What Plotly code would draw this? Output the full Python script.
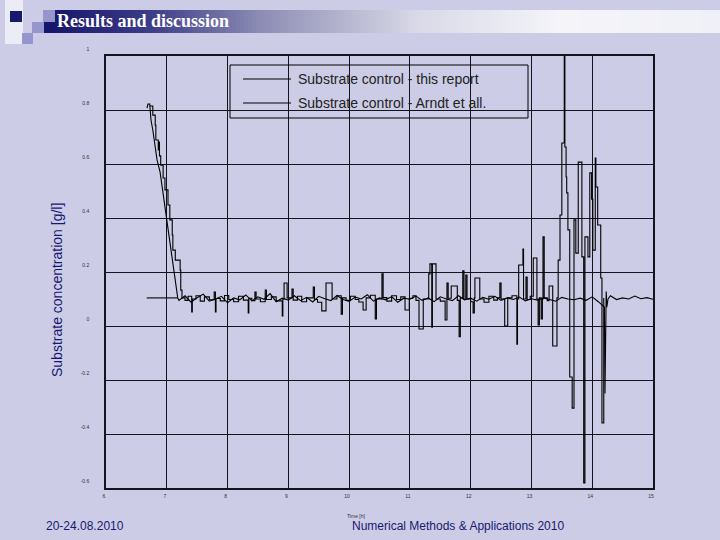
import plotly.graph_objects as go

# ---------------- data ----------------
# Series "this report": smooth descent then small noise around ~0.1 g/l
report_t = [6.675, 6.69, 6.72, 6.74, 6.77, 6.81, 6.84, 6.89, 6.92, 6.95, 6.99, 7.02, 7.05, 7.09, 7.12, 7.15, 7.18,
            7.2, 7.3, 7.4, 7.5, 7.6, 7.7, 7.8, 7.9, 8.0, 8.1, 8.2, 8.3, 8.4, 8.5, 8.6, 8.7, 8.8, 8.9,
            9.0, 9.1, 9.2, 9.3, 9.4, 9.5, 9.6, 9.7, 9.8, 9.9, 10.0, 10.1, 10.2, 10.3, 10.4, 10.5, 10.6,
            10.7, 10.8, 10.9, 11.0, 11.1, 11.2, 11.3, 11.4, 11.5, 11.6, 11.7, 11.8, 11.9, 12.0, 12.1,
            12.2, 12.3, 12.4, 12.5, 12.6, 12.7, 12.8, 12.9, 13.0, 13.1, 13.2, 13.3, 13.4, 13.5, 13.6,
            13.7, 13.8, 13.9, 14.0, 14.1, 14.2, 14.21, 14.23, 14.24, 14.26, 14.3, 14.4, 14.5, 14.6,
            14.7, 14.8, 14.9, 15.0]
report_v = [0.807, 0.822, 0.822, 0.763, 0.726, 0.670, 0.615, 0.570, 0.522, 0.467, 0.422, 0.363, 0.319, 0.252, 0.200, 0.152, 0.104,
            0.095, 0.112, 0.088, 0.105, 0.118, 0.092, 0.100, 0.110, 0.086, 0.104, 0.097, 0.115, 0.093, 0.108, 0.099, 0.120, 0.090, 0.103,
            0.096, 0.112, 0.094, 0.106, 0.089, 0.110, 0.101, 0.094, 0.113, 0.098, 0.091, 0.107, 0.100, 0.116, 0.092, 0.104, 0.097,
            0.109, 0.088, 0.103, 0.099, 0.111, 0.095, 0.104, 0.090, 0.108, 0.100, 0.094, 0.112, 0.097, 0.103, 0.092,
            0.106, 0.099, 0.110, 0.095, 0.104, 0.098, 0.107, 0.093, 0.101, 0.096, 0.104, 0.099, 0.092, 0.106, 0.100,
            0.097, 0.103, 0.095, 0.108, 0.090, 0.070, -0.250, 0.128, 0.070, 0.100, 0.112, 0.098, 0.104, 0.100,
            0.111, 0.101, 0.105, 0.099]

# Series "Arndt et all.": step-like descent then spiky oscillations
arndt_t = [6.72, 6.76, 6.77, 6.81, 6.82, 6.86, 6.87, 6.88, 6.90, 6.94, 6.97, 7.02, 7.05, 7.09, 7.10, 7.14, 7.20, 7.22, 7.23,
           7.25, 7.30, 7.35, 7.41, 7.42, 7.48, 7.55, 7.62, 7.70, 7.78, 7.80, 7.81, 7.88, 7.95, 8.02, 8.10, 8.18, 8.26,
           8.34, 8.35, 8.40, 8.45, 8.47, 8.54, 8.62, 8.64, 8.72, 8.80, 8.90, 8.91, 8.93, 8.98, 9.06, 9.08, 9.15, 9.22,
           9.30, 9.41, 9.43, 9.48, 9.55, 9.62, 9.72, 9.80, 9.87, 9.89, 9.95, 10.02, 10.10, 10.16, 10.23, 10.28, 10.35,
           10.43, 10.45, 10.54, 10.56, 10.62, 10.70, 10.78, 10.85, 10.92, 10.99, 11.05, 11.10, 11.15, 11.22, 11.31,
           11.33, 11.36, 11.37, 11.43, 11.50, 11.58, 11.61, 11.63, 11.68, 11.78, 11.81, 11.83, 11.87, 11.89, 11.92,
           11.94, 12.00, 12.04, 12.06, 12.07, 12.15, 12.22, 12.30, 12.38, 12.44, 12.48, 12.50, 12.56, 12.61, 12.68,
           12.76, 12.77, 12.79, 12.86, 12.87, 12.91, 12.93, 12.98, 13.03, 13.09, 13.11, 13.13, 13.16, 13.18, 13.19,
           13.21, 13.26, 13.29, 13.35, 13.42, 13.44, 13.47, 13.50, 13.54, 13.55, 13.57, 13.58, 13.60, 13.63, 13.67,
           13.70, 13.73, 13.77, 13.83, 13.86, 13.88, 13.93, 13.96, 13.99, 14.01, 14.05, 14.06, 14.09, 14.14, 14.16,
           14.19]
arndt_v = [0.815, 0.815, 0.781, 0.744, 0.689, 0.652, 0.681, 0.630, 0.596, 0.548, 0.504, 0.448, 0.393, 0.337, 0.281, 0.244, 0.244, 0.207, 0.133,
           0.104, 0.095, 0.110, 0.052, 0.100, 0.112, 0.092, 0.108, 0.097, 0.126, 0.052, 0.102, 0.093, 0.113, 0.098, 0.090, 0.110, 0.096,
           0.048, 0.103, 0.094, 0.126, 0.100, 0.090, 0.133, 0.098, 0.108, 0.093, 0.037, 0.100, 0.159, 0.104, 0.137, 0.096, 0.110, 0.090,
           0.104, 0.144, 0.098, 0.088, 0.056, 0.159, 0.100, 0.112, 0.044, 0.104, 0.095, 0.110, 0.098, 0.089, 0.059, 0.104, 0.114,
           0.026, 0.100, 0.193, 0.105, 0.092, 0.112, 0.098, 0.108, 0.059, 0.103, 0.112, 0.095, -0.011, 0.100, 0.193,
           0.230, -0.004, 0.230, 0.100, 0.092, 0.022, 0.159, 0.103, 0.148, 0.095, -0.040, 0.104, 0.204, 0.098, 0.189,
           0.100, 0.090, 0.048, 0.104, 0.178, 0.100, 0.088, 0.110, 0.096, 0.104, 0.159, 0.100, 0.000, 0.104, 0.112,
           -0.067, 0.100, 0.226, 0.285, 0.100, 0.181, 0.098, 0.110, 0.252, 0.100, 0.004, 0.104, 0.026, 0.100, 0.330,
           0.104, 0.094, 0.148, -0.074, 0.104, 0.244, 0.411, 0.678, 1.050, 0.663, 0.552, 0.493, 0.356, -0.189, -0.304,
           0.393, 0.270, 0.607, 0.256, -0.581, 0.330, 0.256, 0.567, 0.470, 0.281, 0.622, 0.515, 0.374, 0.178, -0.359,
           0.104]

# short flat level drawn before the descent
level_t = [6.67, 7.18]
level_v = [0.104, 0.104]

series_names = ["Substrate control - this report", "Substrate control - Arndt et all."]
x_ticks = [6, 7, 8, 9, 10, 11, 12, 13, 14, 15]
y_ticks = [-0.6, -0.4, -0.2, 0, 0.2, 0.4, 0.6, 0.8, 1]
y_tick_text = ["-0.6", "-0.4", "-0.2", "0", "0.2", "0.4", "0.6", "0.8", "1"]

# ---------------- figure ----------------
BG = "rgb(204,204,230)"
NAVY = "rgb(24,24,110)"
W, H = 720, 540
L, R, T, B = 106, 653, 56, 488


def px(x):
    return (x - L) / (R - L)


def py(y):
    return (B - y) / (B - T)


fig = go.Figure()
fig.add_trace(go.Scatter(x=report_t, y=report_v, mode="lines", name=series_names[0], showlegend=False,
                         line=dict(color="black", width=1.1)))
fig.add_trace(go.Scatter(x=arndt_t, y=arndt_v, mode="lines", name=series_names[1], showlegend=False,
                         line=dict(color="black", width=1.1, shape="hv")))
fig.add_trace(go.Scatter(x=level_t, y=level_v, mode="lines", showlegend=False,
                         line=dict(color="black", width=1.1)))

shapes = []
# header gradient bar
stops = [(44, (20, 20, 105)), (150, (60, 60, 135)), (260, (140, 140, 180)), (420, (218, 218, 232)),
         (560, (244, 244, 249)), (720, (240, 240, 248))]


def grad(x):
    for (x0, c0), (x1, c1) in zip(stops[:-1], stops[1:]):
        if x0 <= x <= x1:
            f = (x - x0) / (x1 - x0)
            return "rgb(%d,%d,%d)" % tuple(round(a + (b - a) * f) for a, b in zip(c0, c1))
    return "rgb(240,240,248)"


step = 4
for x0 in range(44, 720, step):
    shapes.append(dict(type="rect", xref="paper", yref="paper", x0=px(x0), x1=px(x0 + step + 0.5),
                       y0=py(33), y1=py(10), line=dict(width=0), fillcolor=grad(x0 + step / 2), layer="below"))
# decorative squares
for (x0, y0, x1, y1, c) in [(5, 0, 23, 44, "rgb(236,236,246)"), (10, 11, 22, 22, NAVY),
                            (43, 10, 55, 22, "rgb(150,150,205)"), (32, 22, 44, 33, "rgb(150,150,205)"),
                            (22, 33, 33, 44, "rgb(150,150,205)")]:
    shapes.append(dict(type="rect", xref="paper", yref="paper", x0=px(x0), x1=px(x1), y0=py(y1), y1=py(y0),
                       line=dict(width=0), fillcolor=c, layer="below"))

# legend box and samples (drawn manually to match the slide's legend)
shapes.append(dict(type="rect", xref="paper", yref="paper", x0=px(230), x1=px(528), y0=py(118), y1=py(65),
                   line=dict(color="black", width=1), fillcolor="rgba(0,0,0,0)"))
legend_rows = [79, 103]
annotations = []
for name, yr in zip(series_names, legend_rows):
    shapes.append(dict(type="line", xref="paper", yref="paper", x0=px(243), x1=px(291), y0=py(yr), y1=py(yr),
                       line=dict(color="black", width=1)))
    annotations.append(dict(text=name, xref="paper", yref="paper", x=px(296), y=py(yr),
                            xanchor="left", yanchor="middle", showarrow=False,
                            font=dict(size=14, color="#222")))

annotations += [
    dict(text="<b>Results and discussion</b>", xref="paper", yref="paper", x=px(55), y=py(21),
         xanchor="left", yanchor="middle", showarrow=False,
         font=dict(family="Liberation Serif, Times New Roman, serif", size=18, color="white")),
    dict(text="Substrate concentration [g/l]", xref="paper", yref="paper", x=px(57), y=py(290),
         xanchor="center", yanchor="middle", showarrow=False, textangle=-90,
         font=dict(size=14, color=NAVY)),
    dict(text="Time [h]", xref="paper", yref="paper", x=px(356), y=py(516),
         xanchor="center", yanchor="middle", showarrow=False, font=dict(size=5, color="#333")),
    dict(text="20-24.08.2010", xref="paper", yref="paper", x=px(44), y=py(526),
         xanchor="left", yanchor="middle", showarrow=False, font=dict(size=12, color=NAVY)),
    dict(text="Numerical Methods & Applications 2010", xref="paper", yref="paper", x=px(350), y=py(526),
         xanchor="left", yanchor="middle", showarrow=False, font=dict(size=12, color=NAVY)),
]

fig.update_layout(
    width=W, height=H,
    margin=dict(l=L, r=W - R, t=T, b=H - B),
    paper_bgcolor=BG, plot_bgcolor=BG,
    font=dict(family="Liberation Sans, Arial, sans-serif", color="#222"),
    shapes=shapes,
    showlegend=False,
    xaxis=dict(range=[6, 15], tickvals=x_ticks, ticktext=[str(v) for v in x_ticks],
               showgrid=True, gridcolor="rgb(20,20,30)", gridwidth=1.3,
               showline=True, linecolor="rgb(20,20,30)", linewidth=1.5, mirror=True,
               zeroline=False, ticks="", tickfont=dict(size=5, color="#333"),
               ticklabelstandoff=2, ticklabelshift=-2),
    yaxis=dict(range=[-0.6, 1.0], tickvals=y_ticks, ticktext=y_tick_text,
               showgrid=True, gridcolor="rgb(20,20,30)", gridwidth=1.3,
               showline=True, linecolor="rgb(20,20,30)", linewidth=1.5, mirror=True,
               zeroline=False, ticks="", tickfont=dict(size=5, color="#333"),
               ticklabelstandoff=14, ticklabelshift=-7),
    annotations=annotations,
)

fig.write_html("out.html")
